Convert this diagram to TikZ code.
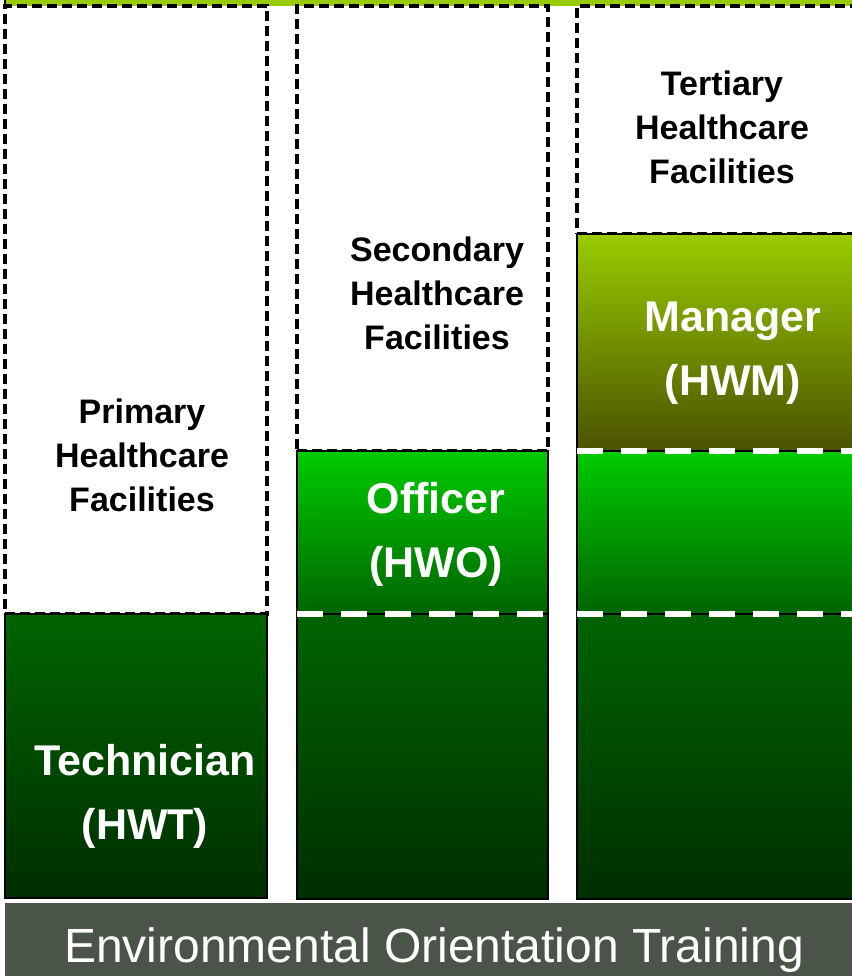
\documentclass[tikz,border=0pt]{standalone}
\usepackage{fontspec}
\setmainfont{Liberation Sans}
\usetikzlibrary{positioning}

\definecolor{limegreen}{HTML}{99CC00}
\definecolor{olivedark}{HTML}{4A5200}
\definecolor{brightgreen}{HTML}{00CC00}
\definecolor{midgreen}{HTML}{006400}
\definecolor{deepgreen}{HTML}{002E00}
\definecolor{bargray}{HTML}{4B5449}

\begin{document}
\begin{tikzpicture}[x=0.5pt, y=-0.5pt,
    every node/.style={outer sep=0pt}, align=center]
		\tikzset{%
  % boxes of the three levels
  facility/.style = {rectangle, draw=black, fill=white, line width=1.8pt,
                     dash pattern=on 5pt off 2.5pt, anchor=north west},
  tier/.style = {rectangle, draw=black, line width=0.75pt},
  toptier/.style = {tier, top color=limegreen, bottom color=olivedark},
  midtier/.style = {tier, top color=brightgreen, bottom color=midgreen,
                    minimum height=81.5pt},
  lowtier/.style = {tier, top color=midgreen, bottom color=deepgreen,
                    minimum height=142.5pt},
  divider/.style = {draw=white, line width=3pt, dash pattern=on 13pt off 9pt},
  % texts
  factext/.style = {text=black, font=\fontsize{17}{22}\selectfont\bfseries},
  roletext/.style = {text=white, font=\fontsize{21.5}{32}\selectfont\bfseries},
  trainbar/.style = {rectangle, fill=bargray, minimum width=430pt,
                     minimum height=40pt, anchor=north west},
}
  \clip (0,0) rectangle (852,976);

  \node (topbar) [rectangle, fill=limegreen, minimum width=440pt, minimum height=15pt,
                  anchor=south west] at (5,6) {};
  \draw[black, line width=0.75pt] (topbar.south west) -- (topbar.north west);

  % primary
  \node (primfac) [facility, minimum width=131pt, minimum height=304pt] at (5,6) {};
  \node (hwt) [lowtier, minimum width=131pt, minimum height=142pt,
               below=0pt of primfac] {};

  % secondary
  \node (secfac) [facility, minimum width=125.5pt, minimum height=222.5pt] at (297,6) {};
  \node (hwo) [midtier, minimum width=125.5pt, below=0pt of secfac] {};
  \node (seclow) [lowtier, minimum width=125.5pt, below=0pt of hwo] {};

  % tertiary
  \node (terfac) [facility, minimum width=145pt, minimum height=114pt] at (577,6) {};
  \node (hwm) [toptier, minimum width=145pt, minimum height=108.5pt,
               below=0pt of terfac] {};
  \node (termid) [midtier, minimum width=145pt, below=0pt of hwm] {};
  \node (terlow) [lowtier, minimum width=145pt, below=0pt of termid] {};

  \draw[divider] (hwo.south west) -- (hwo.south east);
  \draw[divider] (hwm.south west) -- (hwm.south east);
  \draw[divider] (termid.south west) -- (termid.south east);

  \node (primtxt) [factext] at (142,455) {Primary\\Healthcare\\Facilities};
  \node (sectxt) [factext] at (437,293) {Secondary\\Healthcare\\Facilities};
  \node (tertxt) [factext] at (722,127) {Tertiary\\Healthcare\\Facilities};

  \node (hwttxt) [roletext] at (145,796) {Technician\\(HWT)};
  \node (hwotxt) [roletext] at (436,534) {Officer\\(HWO)};
  \node (hwmtxt) [roletext] at (733,353) {Manager\\(HWM)};

  \node (eot) [trainbar] at (5,903) {};
  \node (eottxt) [text=white, font=\fontsize{24}{28}\selectfont, anchor=base]
        at (434,962) {Environmental Orientation Training};

  \end{tikzpicture}
\end{document}
